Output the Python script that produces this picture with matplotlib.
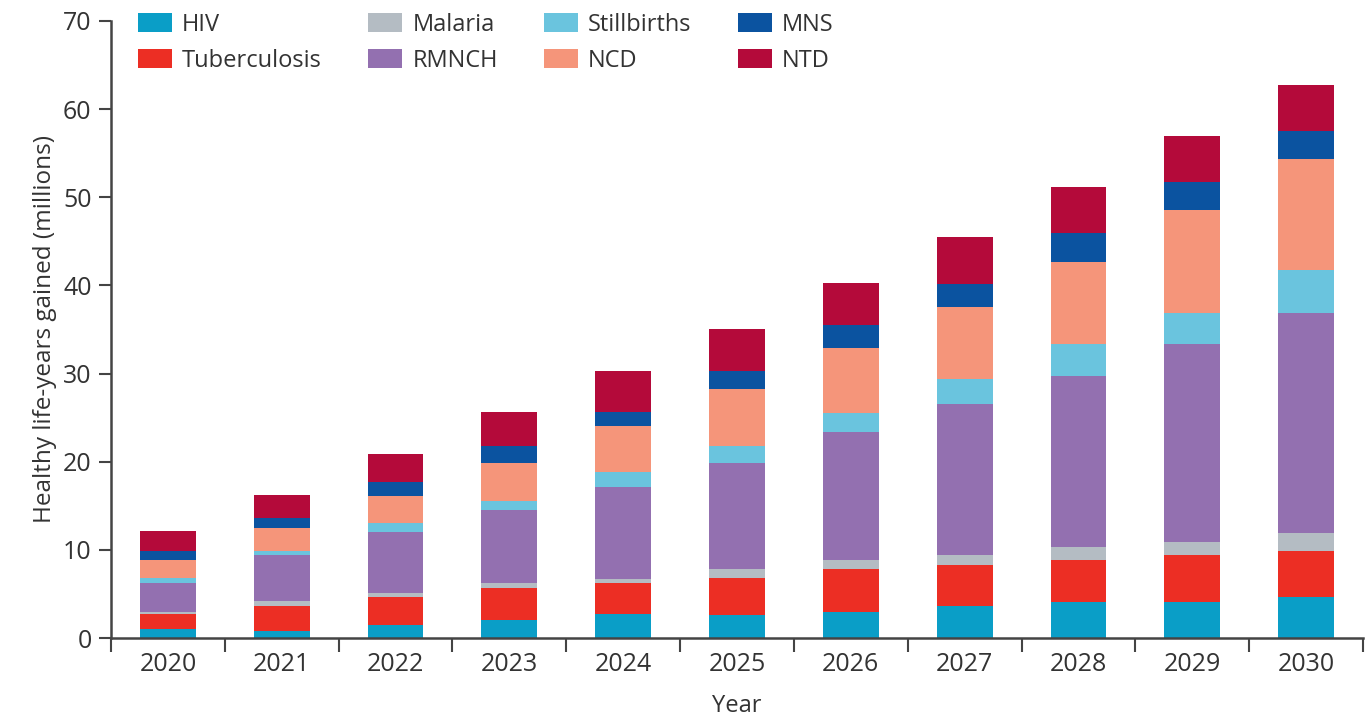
import numpy as np
import matplotlib
matplotlib.use("Agg")
import matplotlib.pyplot as plt

plt.rcParams['font.family'] = ['Open Sans', 'DejaVu Sans']

########################### DATA (millions of healthy life-years)
years = ["2020", "2021", "2022", "2023", "2024", "2025",
         "2026", "2027", "2028", "2029", "2030"]

hiv         = [1.0, 0.85, 1.5, 2.1, 2.7, 2.6, 3.0, 3.6, 4.1, 4.1, 4.6]
tb          = [1.7, 2.8, 3.1, 3.55, 3.5, 4.2, 4.8, 4.7, 4.8, 5.35, 5.25]
malaria     = [0.2, 0.5, 0.5, 0.55, 0.55, 1.0, 1.05, 1.1, 1.45, 1.45, 2.1]
rmnch       = [3.3, 5.3, 6.9, 8.3, 10.35, 12.1, 14.55, 17.15, 19.35, 22.5, 24.95]
stillbirths = [0.6, 0.4, 1.0, 1.1, 1.7, 1.9, 2.1, 2.8, 3.6, 3.5, 4.8]
ncd         = [2.1, 2.65, 3.1, 4.2, 5.2, 6.4, 7.4, 8.25, 9.4, 11.7, 12.6]
mns         = [1.0, 1.1, 1.6, 2.0, 1.6, 2.1, 2.6, 2.6, 3.3, 3.1, 3.2]
ntd         = [2.2, 2.6, 3.2, 3.8, 4.7, 4.7, 4.8, 5.3, 5.2, 5.3, 5.2]

labels = ["HIV", "Tuberculosis", "Malaria", "RMNCH",
          "Stillbirths", "NCD", "MNS", "NTD"]
series = [hiv, tb, malaria, rmnch, stillbirths, ncd, mns, ntd]
colors = ["#0a9ec7", "#ec2e24", "#b4bcc3", "#9370b0",
          "#6ac4de", "#f5957a", "#0b53a0", "#b40a3a"]

txt = "#333333"
axcol = "#444444"

fig = plt.figure(figsize=(13.67, 7.21), dpi=100)
ax = fig.add_axes([0.0812, 0.1151, 0.9159, 0.8558])

x = np.arange(len(years))
bottom = np.zeros(len(years))
for vals, lab, col in zip(series, labels, colors):
    ax.bar(x, vals, width=0.49, bottom=bottom, color=col, label=lab,
           linewidth=0)
    bottom += np.array(vals)

ax.set_xlim(-0.5, len(years) - 0.5)
ax.set_ylim(0, 70)
ax.set_yticks(np.arange(0, 71, 10))

# boundary ticks between years, labels at the bar centres
ax.set_xticks(np.arange(-0.5, len(years), 1.0))
ax.set_xticklabels([])
ax.set_xticks(x, minor=True)
ax.set_xticklabels(years, minor=True)
ax.tick_params(axis="x", which="major", length=10, width=1.5, color=axcol)
ax.tick_params(axis="x", which="minor", length=0, pad=10,
               labelsize=18, labelcolor=txt)
ax.tick_params(axis="y", length=9, width=1.5, color=axcol, pad=5,
               labelsize=18, labelcolor=txt)

for s in ["top", "right"]:
    ax.spines[s].set_visible(False)
for s in ["left", "bottom"]:
    ax.spines[s].set_linewidth(1.8)
    ax.spines[s].set_color(axcol)

ax.set_ylabel("Healthy life-years gained (millions)", fontsize=17.5,
              color=txt, labelpad=4)
ax.set_xlabel("Year", fontsize=17, color=txt, labelpad=12)

leg = ax.legend(loc="upper left", bbox_to_anchor=(0.101, 0.982),
                bbox_transform=fig.transFigure, ncol=4, frameon=False,
                fontsize=17, handlelength=1.45, handleheight=0.85,
                handletextpad=0.42, columnspacing=1.95, labelspacing=0.5,
                borderpad=0, borderaxespad=0)
for t in leg.get_texts():
    t.set_color(txt)

fig.savefig("out.png", dpi=100)
